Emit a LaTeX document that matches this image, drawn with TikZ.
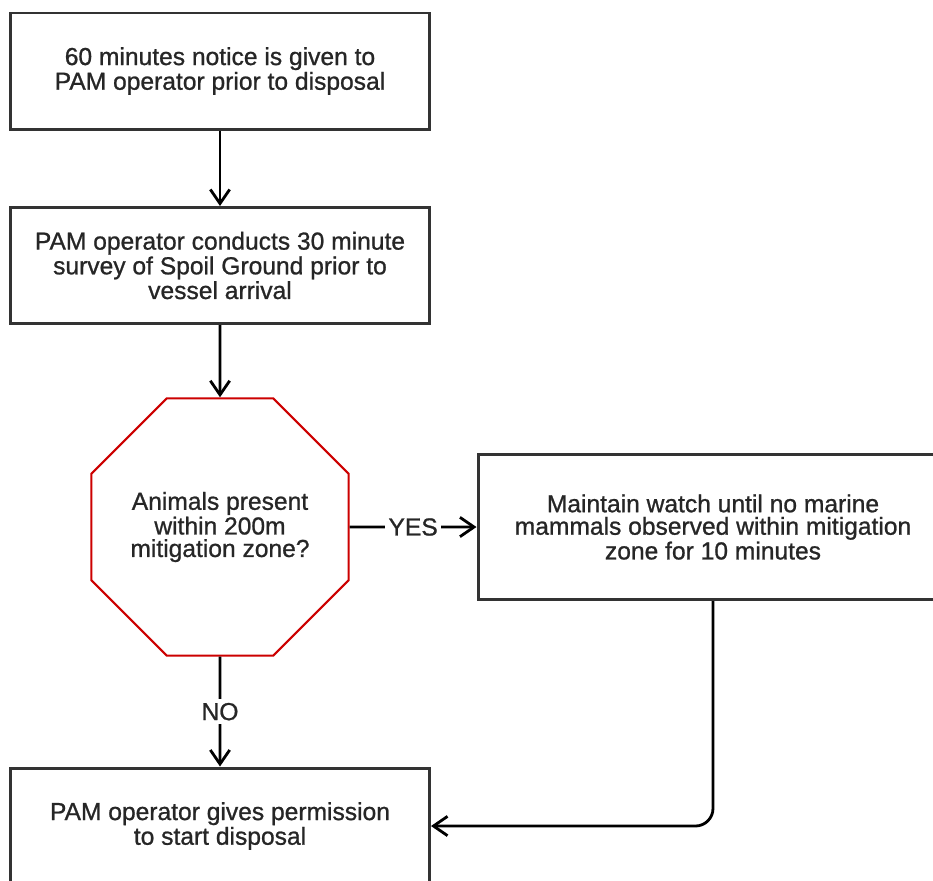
\documentclass[tikz,border=0pt]{standalone}
\usepackage{fontspec}
\setmainfont{Liberation Sans}
\usetikzlibrary{arrows.meta,shapes.geometric}
\definecolor{boxline}{RGB}{51,51,51}
\definecolor{stopred}{RGB}{204,0,0}
\newcommand{\boxfont}{\fontsize{14}{12.8}\selectfont\addfontfeature{FakeBold=0.9}}
\tikzset{
	stepbox/.style={draw=boxline, line width=1.7pt, fill=white, align=center,
		minimum width=8.38cm, minimum height=2.32cm, text=black!85,
		font=\boxfont},
	stopsign/.style={regular polygon, regular polygon sides=8, draw=stopred,
		line width=1.2pt, minimum size=5.57cm, inner sep=0pt, align=center,
		text=black!85, font=\boxfont},
	flow/.style={line width=1.6pt, -{Straight Barb[length=8pt,width=11pt]}},
	answer/.style={fill=white, text=black!85, inner sep=2pt, font=\boxfont}
}

\begin{document}
\begin{tikzpicture}
	\useasboundingbox (0,0) rectangle (18.66,-17.6);

	\node[stepbox] (notice) at (4.4,-1.42) {60 minutes notice is given to\\PAM operator prior to disposal};
	\node[stepbox] (survey) at (4.4,-5.31) {PAM operator conducts 30 minute\\survey of Spoil Ground prior to\\vessel arrival};
	\node[stopsign] (check) at (4.4,-10.54) {Animals present\\within 200m\\mitigation zone?};
	\node[stepbox, minimum width=9.4cm, minimum height=2.9cm] (watch) at (14.26,-10.54) {Maintain watch until no marine\\mammals observed within mitigation\\zone for 10 minutes};
	\node[stepbox] (permit) at (4.4,-16.52) {PAM operator gives permission\\to start disposal};

	\draw[flow] (notice) -- (survey);
	\draw[flow] (survey) -- (check);
	\draw[flow] (check) -- node[answer] {YES} (watch);
	\draw[flow] (check) -- node[answer] {NO} (permit);
	\draw[flow, rounded corners=10pt] (watch.south) |- (permit.east);
\end{tikzpicture}
\end{document}
